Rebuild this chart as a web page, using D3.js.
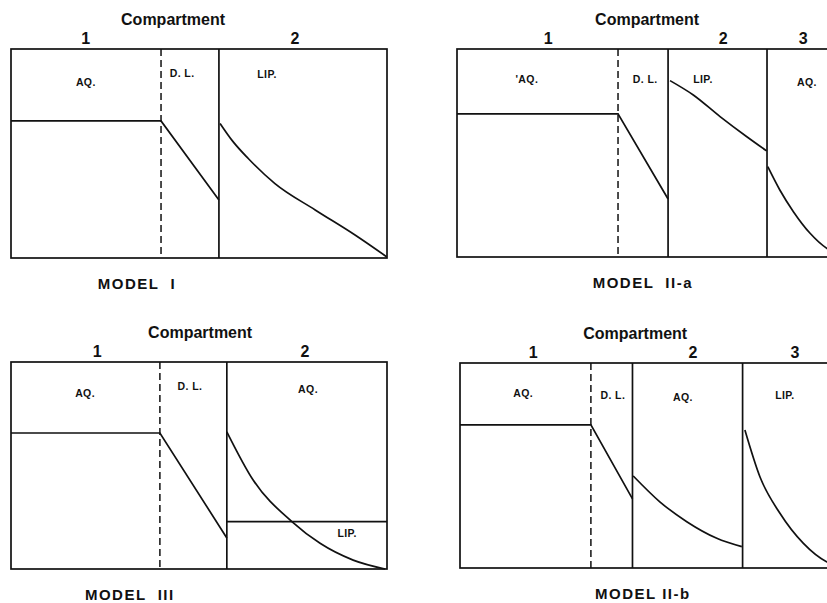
<!DOCTYPE html>
<meta charset="utf-8">
<style>
body { margin: 0; background: #fff; }
svg text { font-family: "Liberation Sans", Arial, sans-serif; font-weight: bold; fill: #111; }
.frame, .wall, .trace { stroke: #111; fill: none; stroke-width: 1.7px; }
.dash { stroke: #111; stroke-width: 1.5px; stroke-dasharray: 7,4; }
.comp { font-size: 16px; }
.num { font-size: 16px; }
.reg { font-size: 10.5px; letter-spacing: 0.4px; }
.model { font-size: 15px; letter-spacing: 1.5px; white-space: pre; }
</style>
<svg width="827" height="603"></svg>
<script src="https://d3js.org/d3.v7.min.js"></script>
<script>

// distance across the membrane runs 0..100 in every panel, concentration 0..100

// MODEL I
var m1Dash = 39.9;
var m1Walls = [55.3];
var m1Straight = [[0, 65.6], [39.9, 65.6], [55.3, 27.8]];
var m1Curves = [
  [[55.6, 64.4], [59.0, 55.8], [63.1, 47.6], [70.2, 35.6], [80.9, 23.0], [91.5, 11.0], [99.9, 0.6]]
];
var m1Nums = [["1", 19.9], ["2", 75.5]];
var m1Labels = [["AQ.", 19.9, 82.3], ["D. L.", 45.5, 86.6], ["LIP.", 68.1, 86.1]];

// MODEL II-a
var m2Dash = 41.5;
var m2Walls = [54.4, 79.9];
var m2Straight = [[0, 68.8], [41.5, 68.8], [54.4, 27.9]];
var m2Curves = [
  [[54.9, 84.8], [60.9, 77.9], [67.8, 67.5], [74.7, 57.8], [79.8, 51.0]],
  [[80.1, 43.4], [83.2, 32.2], [86.7, 21.8], [91.0, 11.4], [95.3, 4.2], [98.7, 1.4]]
];
var m2Nums = [["1", 23.5], ["2", 68.6], ["3", 89.2]];
var m2Labels = [["'AQ.", 18.0, 83.7], ["D. L.", 48.5, 83.7], ["LIP.", 63.4, 83.7], ["AQ.", 90.2, 82.2]];

// MODEL III
var m3Dash = 39.6;
var m3Walls = [57.4];
var m3Straight = [[0, 65.7], [39.6, 65.7], [57.4, 15.0]];
var m3Curves = [
  [[57.4, 66.3], [64.4, 43.0], [74.7, 22.9], [82.2, 12.4], [91.0, 4.3], [99.5, 0]]
];
var m3Lip = [[57.4, 22.9], [100, 22.9]];
var m3Nums = [["1", 22.9], ["2", 78.2]];
var m3Labels = [["AQ.", 19.7, 83.1], ["D. L.", 47.6, 86.5], ["AQ.", 79.0, 85.0], ["LIP.", 89.4, 15.5]];

// MODEL II-b
var m4Dash = 34.0;
var m4Walls = [44.8, 73.4];
var m4Straight = [[0, 69.8], [34.0, 69.8], [44.8, 33.7]];
var m4Curves = [
  [[45.0, 44.9], [51.9, 32.3], [58.9, 22.6], [66.7, 14.5], [73.2, 10.4]],
  [[74.0, 67.3], [77.9, 44.5], [83.1, 26.7], [89.2, 12.0], [95.2, 3.1], [98.7, 1.0]]
];
var m4Nums = [["1", 19.0], ["2", 60.5], ["3", 87.0]];
var m4Labels = [["AQ.", 16.4, 83.4], ["D. L.", 39.7, 82.4], ["AQ.", 57.9, 81.5], ["LIP.", 84.4, 82.4]];

var svg = d3.select("svg");

function panel(box, model, titleX, modelX, dash, walls, straight, curves, nums, labels, lip) {
  var x = d3.scaleLinear().domain([0, 100]).range([box.left, box.right]),
      y = d3.scaleLinear().domain([0, 100]).range([box.bottom, box.top]);
  var g = svg.append("g");

  g.append("rect").attr("class", "frame")
      .attr("x", x(0)).attr("y", y(100))
      .attr("width", x(100) - x(0)).attr("height", y(0) - y(100));

  g.append("line").attr("class", "dash")
      .attr("x1", x(dash)).attr("x2", x(dash))
      .attr("y1", y(100)).attr("y2", y(0));

  g.selectAll(".wall").data(walls).enter().append("line")
      .attr("class", "wall")
      .attr("x1", function(d) { return x(d); }).attr("x2", function(d) { return x(d); })
      .attr("y1", y(100)).attr("y2", y(0));

  var lin = d3.line().x(function(d) { return x(d[0]); }).y(function(d) { return y(d[1]); });
  var smooth = d3.line().curve(d3.curveMonotoneX)
      .x(function(d) { return x(d[0]); }).y(function(d) { return y(d[1]); });

  g.append("path").attr("class", "trace").attr("d", lin(straight));
  if (lip) g.append("path").attr("class", "trace").attr("d", lin(lip));
  g.selectAll(".curve").data(curves).enter().append("path")
      .attr("class", "trace curve").attr("d", smooth);

  g.append("text").attr("class", "comp")
      .attr("x", x(titleX)).attr("y", y(100) - 24)
      .attr("text-anchor", "middle").text("Compartment");

  g.selectAll(".num").data(nums).enter().append("text")
      .attr("class", "num")
      .attr("x", function(d) { return x(d[1]); }).attr("y", y(100) - 5)
      .attr("text-anchor", "middle").text(function(d) { return d[0]; });

  g.selectAll(".reg").data(labels).enter().append("text")
      .attr("class", "reg")
      .attr("x", function(d) { return x(d[1]); }).attr("y", function(d) { return y(d[2]); })
      .attr("text-anchor", "middle").text(function(d) { return d[0]; });

  g.append("text").attr("class", "model")
      .attr("x", x(modelX)).attr("y", y(0) + 31)
      .attr("text-anchor", "middle").text(model);
}

panel({left: 11, right: 387, top: 49, bottom: 258}, "MODEL  I", 43.1, 33.5,
      m1Dash, m1Walls, m1Straight, m1Curves, m1Nums, m1Labels);
panel({left: 457, right: 845, top: 49, bottom: 257}, "MODEL  II-a", 49.0, 47.9,
      m2Dash, m2Walls, m2Straight, m2Curves, m2Nums, m2Labels);
panel({left: 11, right: 387, top: 362, bottom: 569}, "MODEL  III", 50.3, 31.6,
      m3Dash, m3Walls, m3Straight, m3Curves, m3Nums, m3Labels, m3Lip);
panel({left: 460, right: 845, top: 363, bottom: 568}, "MODEL II-b", 45.5, 47.5,
      m4Dash, m4Walls, m4Straight, m4Curves, m4Nums, m4Labels);

</script>
